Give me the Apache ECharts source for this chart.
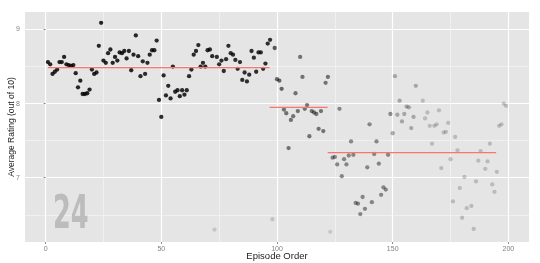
<!DOCTYPE html>
<html>
<head>
<meta charset="utf-8">
<script src="https://cdn.jsdelivr.net/npm/echarts@6/dist/echarts.min.js"></script>
<style>html,body{margin:0;padding:0;background:#fff;}#c{width:540px;height:263px;}</style>
</head>
<body>
<div id="c"></div>
<script>
const episodes = [
  1,2,3,4,5,6,7,8,9,10,11,12,13,14,15,16,17,18,19,20,
  21,22,23,24,25,26,27,28,29,30,31,32,33,34,35,36,37,38,39,40,
  41,42,43,44,45,46,47,48,49,50,51,52,53,54,55,56,57,58,59,60,
  61,62,63,64,65,66,67,68,69,70,71,72,73,74,75,76,77,78,79,80,
  81,82,83,84,85,86,87,88,89,90,91,92,93,94,95,96,97,98,99,100,
  101,102,103,104,105,106,107,108,109,110,111,112,113,114,115,116,117,118,119,120,
  121,122,123,124,125,126,127,128,129,130,131,132,133,134,135,136,137,138,139,140,
  141,142,143,144,145,146,147,148,149,150,151,152,153,154,155,156,157,158,159,160,
  163,164,165,166,167,168,169,170,171,172,173,174,175,176,177,178,179,180,181,182,
  184,185,186,187,188,190,191,192,193,194,195,196,197,198,199
];
const ratings = [
  8.56,8.53,8.40,8.43,8.46,8.56,8.56,8.63,8.53,8.52,8.51,8.52,8.41,8.22,8.31,8.13,8.13,8.14,8.19,8.46,
  8.40,8.42,8.78,9.09,8.58,8.55,8.68,8.73,8.55,8.63,8.58,8.69,8.68,8.71,8.61,8.71,8.45,8.66,8.92,8.64,
  8.37,8.57,8.40,8.55,8.66,8.72,8.72,8.85,8.05,7.82,8.38,8.11,8.24,8.07,8.50,8.16,8.18,8.10,8.18,8.12,
  8.18,8.37,8.46,8.66,8.71,8.79,8.50,8.55,8.50,8.72,8.73,8.64,6.30,8.63,8.53,8.58,8.44,8.60,8.78,8.68,
  8.66,8.59,8.47,8.56,8.32,8.42,8.30,8.39,8.71,8.62,8.43,8.69,8.69,8.47,8.54,8.81,8.86,6.44,8.75,8.33,
  8.31,8.20,7.92,7.87,7.40,7.78,7.83,8.14,7.90,8.63,8.36,7.93,7.98,7.56,7.90,7.88,7.86,7.66,7.90,7.63,
  8.28,8.36,6.27,7.27,7.28,7.18,7.93,7.02,7.25,7.18,7.30,7.49,7.31,6.66,6.65,6.51,6.74,6.58,7.14,7.72,
  6.67,7.32,7.49,7.19,6.77,6.87,6.84,7.31,7.86,7.60,8.37,7.85,8.04,7.76,7.86,7.96,7.95,7.67,7.82,8.24,
  8.04,7.80,7.88,7.70,7.46,7.70,7.72,7.91,7.13,7.61,7.62,7.74,7.25,6.68,7.55,7.37,6.86,6.46,7.01,6.59,
  6.62,6.31,6.95,7.23,7.36,7.12,7.22,7.46,6.91,6.81,7.08,7.70,7.72,8.00,7.97
];
// relative number of votes (0-100), read from point shading
const votes = [
  84,84,84,84,84,84,84,84,84,84,84,84,84,84,84,84,84,84,84,84,
  84,84,84,84,84,84,84,84,84,84,84,84,84,84,84,84,84,84,84,84,
  82,82,82,82,82,82,82,82,82,82,82,82,82,82,82,82,82,82,82,82,
  82,82,82,82,82,82,82,82,82,82,82,82,14,80,80,80,80,80,80,80,
  80,80,80,80,80,80,80,80,80,80,80,80,80,80,80,80,80,15,62,56,
  56,56,50,50,50,50,50,50,50,50,50,50,50,50,50,50,50,50,50,50,
  50,50,13,42,42,42,42,42,42,42,42,42,42,42,42,42,42,42,42,42,
  42,42,42,42,42,42,42,42,40,30,28,28,28,28,28,28,28,28,28,28,
  19,19,19,19,19,19,19,19,19,19,19,19,19,19,19,19,19,19,19,19,
  19,19,19,19,19,19,19,19,19,19,19,19,19,19,19
];
// group means (segments): [start episode, end episode, mean]
const segStart = [1, 96.8, 121.9];
const segEnd = [96.8, 121.9, 194.7];
const segMean = [8.486, 7.95, 7.338];

const xTicks = [0, 50, 100, 150, 200];
const xMinor = [25, 75, 125, 175];
const yTicks = [7, 8, 9];
const yMinor = [6.5, 7.5, 8.5];
const xRange = [-8.9, 208.9];
const yRange = [6.133, 9.236];

const chart = echarts.init(document.getElementById('c'), null, {renderer: 'canvas'});
const pts = episodes.map((e, i) => [e, ratings[i], votes[i]]);

const series = [{
  type: 'scatter',
  data: pts,
  symbolSize: 4.3,
  itemStyle: {color: '#000'},
  silent: true,
  z: 3
}];
for (let i = 0; i < segMean.length; i++) {
  series.push({
    type: 'line',
    data: [[segStart[i], segMean[i]], [segEnd[i], segMean[i]]],
    symbol: 'none',
    lineStyle: {color: '#F8766D', width: 1.2},
    silent: true,
    z: 4
  });
}

const axisText = {color: '#7f7f7f', fontSize: 7, fontFamily: 'Liberation Sans'};
chart.setOption({
  animation: false,
  grid: {left: 25, top: 12, width: 504, height: 230, show: true, backgroundColor: '#E5E5E5', borderWidth: 0,
         containLabel: false, outerBoundsMode: 'none'},
  visualMap: {type: 'continuous', show: false, seriesIndex: 0, dimension: 2, min: 0, max: 100, inRange: {opacity: [0, 1]}},
  xAxis: [{
    type: 'value', min: xRange[0], max: xRange[1],
    axisLine: {show: false},
    axisTick: {show: true, length: 2, lineStyle: {color: '#8a8a8a'}, customValues: xTicks},
    axisLabel: Object.assign({customValues: xTicks, margin: 4}, axisText),
    splitLine: {show: true, lineStyle: {color: '#ffffff', width: 1.2}},
    name: 'Episode Order', nameLocation: 'middle', nameGap: 9, nameMoveOverlap: false,
    nameTextStyle: {color: '#222', fontSize: 9.5, fontFamily: 'Liberation Sans', verticalAlign: 'top'}
  }, {
    type: 'value', min: xRange[0], max: xRange[1], position: 'bottom',
    axisLine: {show: false},
    axisTick: {show: false, customValues: xMinor},
    axisLabel: {show: false},
    splitLine: {show: true, lineStyle: {color: '#F2F2F2', width: 0.8}}
  }],
  yAxis: [{
    type: 'value', min: yRange[0], max: yRange[1],
    axisLine: {show: false},
    axisTick: {show: true, length: 2, lineStyle: {color: '#8a8a8a'}, customValues: yTicks},
    axisLabel: Object.assign({customValues: yTicks, margin: 5}, axisText),
    splitLine: {show: true, lineStyle: {color: '#ffffff', width: 1.2}},
    name: 'Average Rating (out of 10)', nameLocation: 'middle', nameGap: 13, nameRotate: 90, nameMoveOverlap: false,
    nameTextStyle: {color: '#222', fontSize: 8.5, fontFamily: 'Liberation Sans', verticalAlign: 'middle'}
  }, {
    type: 'value', min: yRange[0], max: yRange[1], position: 'left',
    axisLine: {show: false},
    axisTick: {show: false, customValues: yMinor},
    axisLabel: {show: false},
    splitLine: {show: true, lineStyle: {color: '#F2F2F2', width: 0.8}}
  }],
  graphic: [{
    type: 'text', x: 53, y: 216, scaleX: 0.62, z: 1,
    style: {text: '24', fill: '#bcbcbc', font: 'bold 46px "DejaVu Sans Condensed"', align: 'left', verticalAlign: 'middle'}
  }],
  series: series
});
</script>
</body>
</html>
